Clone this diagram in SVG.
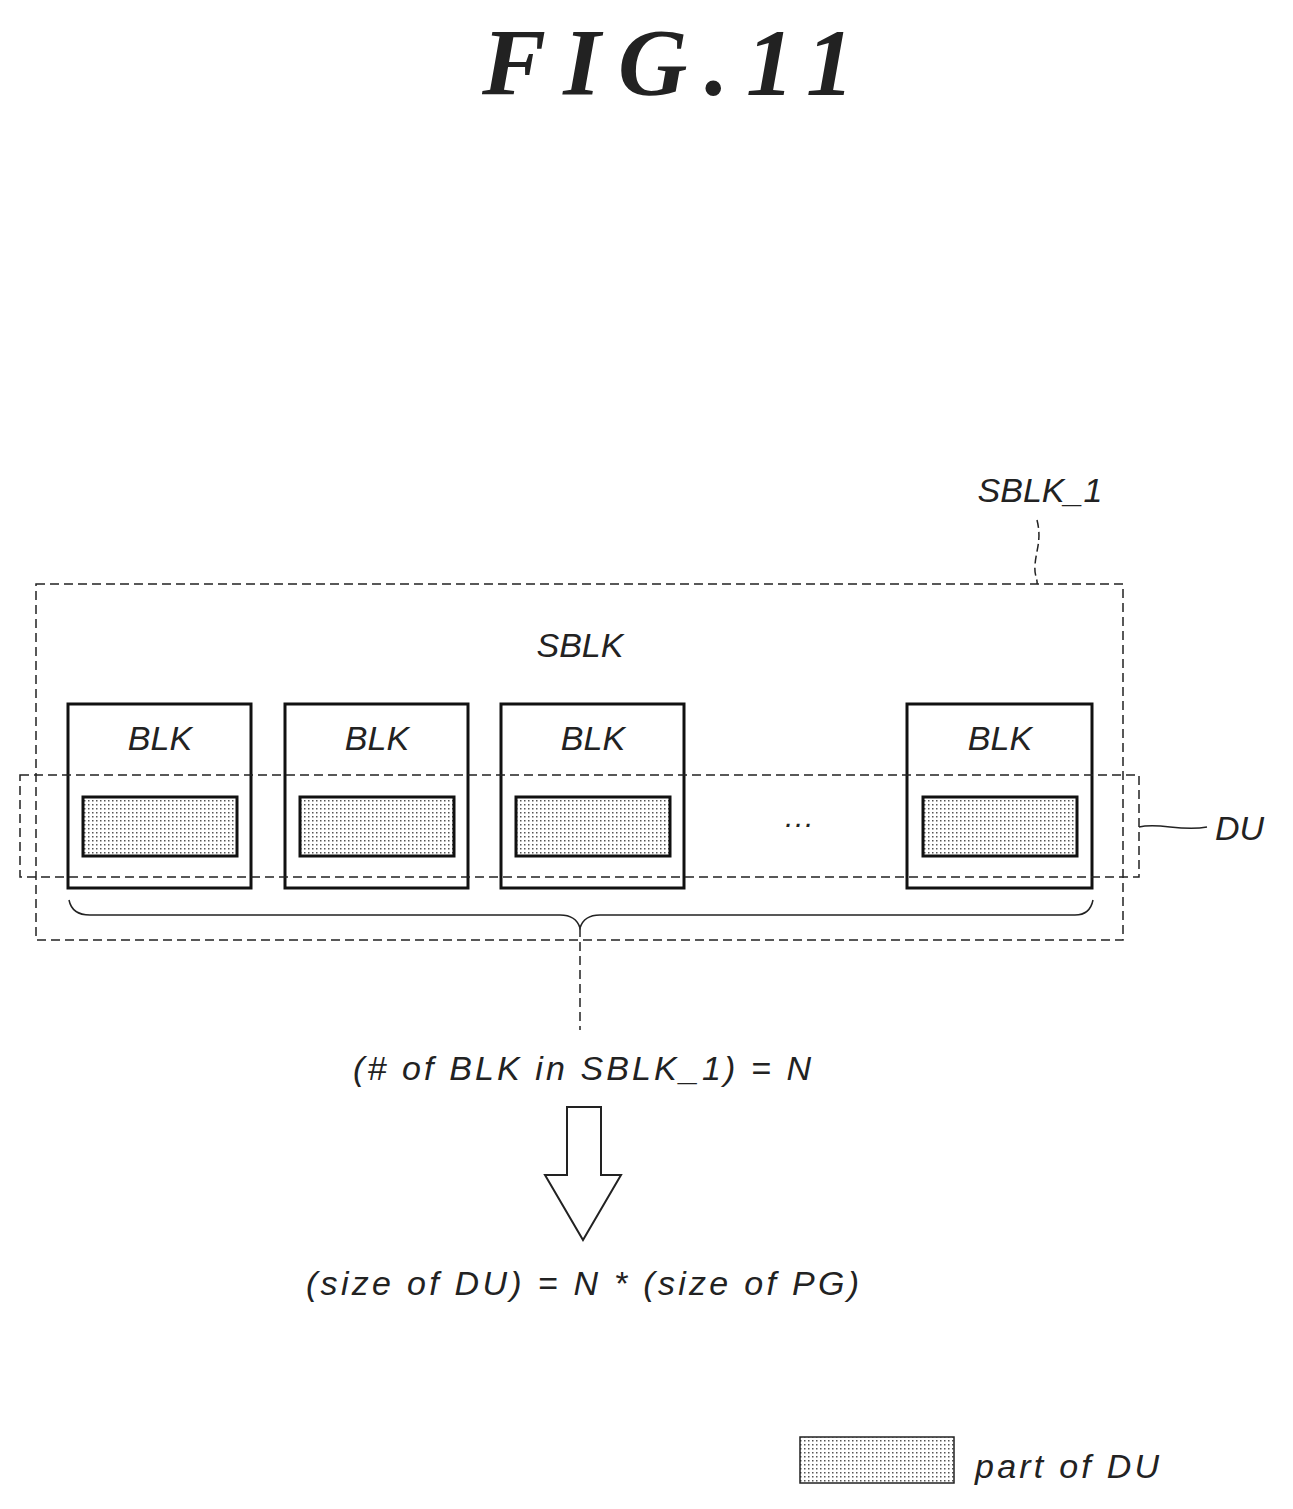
<svg xmlns="http://www.w3.org/2000/svg" width="1293" height="1509" viewBox="0 0 1293 1509">
<defs>
<pattern id="dots" width="4" height="4" patternUnits="userSpaceOnUse"><rect width="4" height="4" fill="#fff"/><rect width="1.5" height="1.5" fill="#555"/></pattern>
<style>
.t{font-family:"Liberation Sans",Arial,sans-serif;font-style:italic;fill:#222;}
.blk{fill:#fff;stroke:#111;stroke-width:3;}
.part{fill:url(#dots);stroke:#111;stroke-width:3;}
.dash{fill:none;stroke:#222;stroke-width:1.5;stroke-dasharray:9 5;}
.ln{fill:none;stroke:#222;stroke-width:1.5;}
</style>
</defs>
<text x="482" y="95" class="t" font-size="96" font-weight="bold" textLength="372" lengthAdjust="spacing" style="font-family:'Liberation Serif',serif">FIG.11</text>
<g id="SBLK_1">
<rect x="36" y="584" width="1087" height="356" class="dash"/>
<text x="1040" y="502" class="t" font-size="34" text-anchor="middle">SBLK_1</text>
<text x="580" y="657" class="t" font-size="34" text-anchor="middle">SBLK</text>
</g>
<g id="blk1"><rect x="68" y="704" width="183" height="184" class="blk"/><text x="160" y="750" class="t" font-size="34" text-anchor="middle">BLK</text><rect x="83" y="797" width="154" height="59" class="part"/></g>
<g id="blk2"><rect x="285" y="704" width="183" height="184" class="blk"/><text x="377" y="750" class="t" font-size="34" text-anchor="middle">BLK</text><rect x="300" y="797" width="154" height="59" class="part"/></g>
<g id="blk3"><rect x="501" y="704" width="183" height="184" class="blk"/><text x="593" y="750" class="t" font-size="34" text-anchor="middle">BLK</text><rect x="516" y="797" width="154" height="59" class="part"/></g>
<g id="blk4"><rect x="907" y="704" width="185" height="184" class="blk"/><text x="1000" y="750" class="t" font-size="34" text-anchor="middle">BLK</text><rect x="923" y="797" width="154" height="59" class="part"/></g>
<text x="798" y="833" class="t" font-size="30" text-anchor="middle">···</text>
<g id="DU">
<rect x="20" y="775" width="1119" height="102" class="dash"/>
<text x="1215" y="840" class="t" font-size="34">DU</text>
</g>
<g id="connectors">
<path d="M1037 520 C1042 540 1036 550 1035 565 C1034 575 1038 580 1037 584" class="ln" stroke-dasharray="8 4"/>
<path d="M1139 827 C1160 822 1180 832 1207 827" class="ln"/>
<path d="M69 900 Q72 915 90 915 L560 915 Q576 915 580 928 Q584 915 600 915 L1075 915 Q1090 915 1093 900" class="ln" stroke-width="2.5"/>
<path d="M580 928 L580 1030" class="dash"/>
<path d="M567 1107 L601 1107 L601 1175 L621 1175 L583 1240 L545 1175 L567 1175 Z" fill="#fff" stroke="#222" stroke-width="2"/>
</g>
<text x="353" y="1080" class="t" font-size="34" textLength="458" lengthAdjust="spacing">(# of BLK in SBLK_1) = N</text>
<text x="306" y="1295" class="t" font-size="34" textLength="553" lengthAdjust="spacing">(size of DU) = N * (size of PG)</text>
<g id="legend">
<rect x="800" y="1437" width="154" height="46" fill="url(#dots)" stroke="#222" stroke-width="1.5"/>
<text x="975" y="1478" class="t" font-size="34" textLength="184" lengthAdjust="spacing">part of DU</text>
</g>
</svg>
